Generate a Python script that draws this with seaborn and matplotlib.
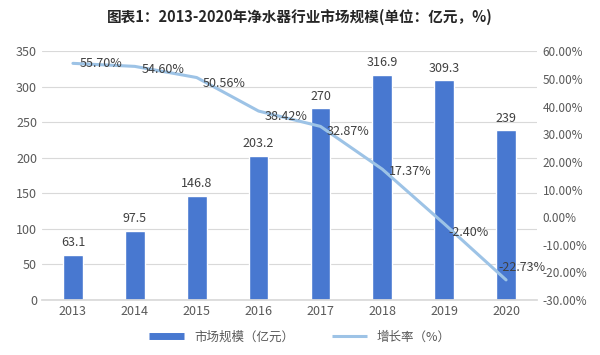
import numpy as np
import pandas as pd
import seaborn as sns
import matplotlib.pyplot as plt
from matplotlib.lines import Line2D

# 数据
years = ['2013', '2014', '2015', '2016', '2017', '2018', '2019', '2020']
market_size = [63.1, 97.5, 146.8, 203.2, 270, 316.9, 309.3, 239]   # 亿元
growth_rate = [55.70, 54.60, 50.56, 38.42, 32.87, 17.37, -2.40, -22.73]  # %

bar_color = '#4878D0'
line_color = '#9DC3E6'
text_color = '#595959'

sns.set_theme(style='white')
plt.rcParams['font.family'] = ['Noto Sans CJK SC', 'DejaVu Sans']

df = pd.DataFrame({'year': years, 'size': market_size, 'rate': growth_rate})

fig = plt.figure(figsize=(6, 3.55), dpi=100)
ax = fig.add_axes([0.07, 0.155, 0.825, 0.70])

sns.barplot(data=df, x='year', y='size', color=bar_color, width=0.32,
            saturation=1, ax=ax, zorder=2)
ax.set_ylim(0, 350)
ax.set_yticks(np.arange(0, 351, 50))
ax.yaxis.grid(True, color='#D9D9D9', linewidth=0.8, zorder=0)
ax.set_axisbelow(True)
ax.set_xlabel('')
ax.set_ylabel('')
ax.tick_params(axis='both', labelsize=9, colors=text_color, length=0)
for s in ax.spines.values():
    s.set_visible(False)
ax.spines['bottom'].set_visible(True)
ax.spines['bottom'].set_color('#D9D9D9')

# 柱子数值标签
for i, v in enumerate(market_size):
    ax.text(i, v + 8, f'{v:g}', ha='center', va='bottom', fontsize=9, color='#404040')

# 增长率折线
ax2 = ax.twinx()
sns.lineplot(x=list(range(len(years))), y=growth_rate, ax=ax2, color=line_color,
             linewidth=2.2, sort=False)
ax2.set_ylim(-30, 60)
ax2.set_yticks(np.arange(-30, 61, 10))
ax2.set_yticklabels([f'{t:.2f}%' for t in np.arange(-30, 61, 10)])
ax2.tick_params(axis='y', labelsize=8.5, colors=text_color, length=0, pad=4)
for s in ax2.spines.values():
    s.set_visible(False)

# 折线数值标签
offsets = [(0.45, 0), (0.45, -1), (0.45, -2), (0.45, -2), (0.45, -2), (0.45, -1), (0.4, -3), (0.25, 4.5)]
for i, r in enumerate(growth_rate):
    dx, dy = offsets[i]
    ax2.text(i + dx, r + dy, f'{r:.2f}%', ha='center', va='center', fontsize=9, color='#404040')

ax.set_xlim(-0.5, len(years) - 0.5)

fig.suptitle('图表1：2013-2020年净水器行业市场规模(单位：亿元，%)', fontsize=10.5,
             fontweight='bold', color='#262626', y=0.975)

handles = [Line2D([0], [0], color=bar_color, linewidth=5, solid_capstyle='butt'),
           Line2D([0], [0], color=line_color, linewidth=2.2, solid_capstyle='butt')]
fig.legend(handles, ['市场规模（亿元）', '增长率（%）'], loc='lower center',
           bbox_to_anchor=(0.5, 0.0), ncol=2, frameon=False, fontsize=9,
           handlelength=2.8, columnspacing=3, labelcolor=text_color)

plt.savefig('out.png', dpi=100)
